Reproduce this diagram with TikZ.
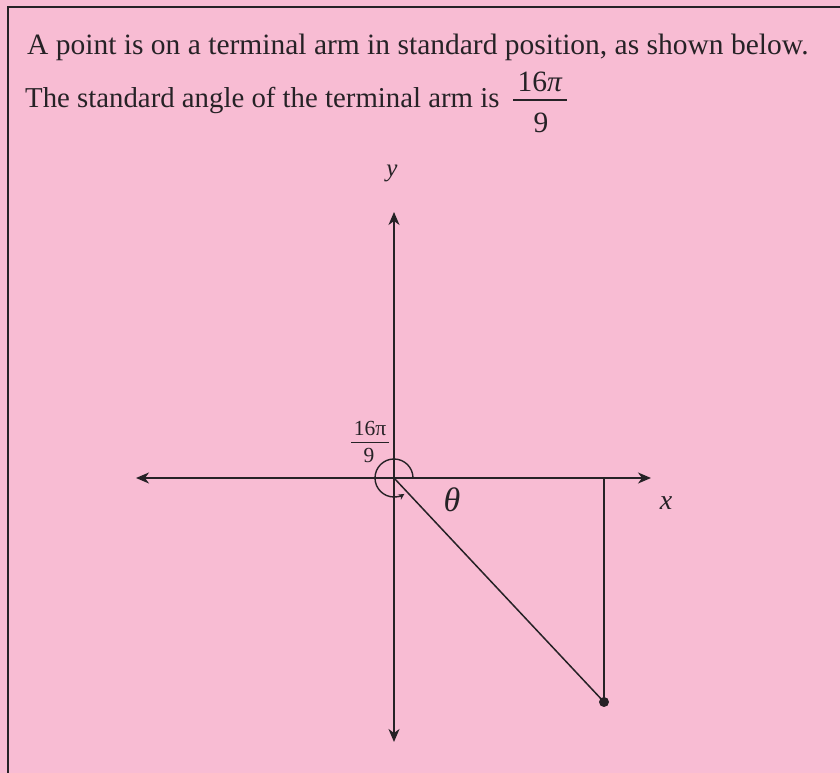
\documentclass[tikz,border=0pt]{standalone}
\usepackage{fontspec}
\setmainfont{Liberation Serif}
\usetikzlibrary{arrows.meta}
\definecolor{pinkbg}{RGB}{248,188,211}
\definecolor{ink}{RGB}{38,34,38}
\begin{document}
\begin{tikzpicture}[x=1pt,y=1pt,
  axis/.style={draw=ink,line width=1.5pt,-{Stealth[length=13pt,width=11pt,inset=4pt]}},
  thin/.style={draw=ink,line width=1.5pt},
  bigtxt/.style={inner sep=0pt,text=ink,font=\fontsize{29.5}{35}\selectfont},
  smalltxt/.style={inner sep=0pt,text=ink,font=\fontsize{21.5}{24}\selectfont},
  lbl/.style={inner sep=0pt,text=ink,font=\fontsize{28}{32}\selectfont\itshape}]
\fill[pinkbg] (0,0) rectangle (840,773);
\useasboundingbox (0,0) rectangle (840,773);
% frame
\draw[ink,line width=1.5pt] (8,0) -- (8,766) -- (840,766);
% text
\node[bigtxt,anchor=base west] (t1) at (27,718) {A point is on a terminal arm in standard position, as shown below.};
\node[bigtxt,font=\fontsize{28.8}{35}\selectfont,anchor=base west] (t2) at (25,665) {The standard angle of the terminal arm is};
\node[bigtxt,anchor=base] (fn) at (540,681) {16\textit{π}};
\node[bigtxt,anchor=base] (fd) at (541,640) {9};
\draw[ink,line width=1.2pt] (513,673) -- (567,673);
% axes
\coordinate (O) at (394,295);
\coordinate (xl) at (136,295);
\coordinate (xr) at (651,295);
\coordinate (yt) at (394,561);
\coordinate (yb) at (394,31);
\draw[axis] (O) -- (xr);
\draw[axis] (O) -- (xl);
\draw[axis] (O) -- (yt);
\draw[axis] (O) -- (yb);
% terminal arm
\node[circle,fill=ink,inner sep=0pt,minimum size=10pt] (P) at (604,71) {};
\coordinate (F) at (604,295);
\draw[thin] (O) -- (P.center);
\draw[thin] (F) -- (P.center);
% angle arc
\draw[ink,line width=1.4pt,-{Stealth[length=6pt,width=6pt]}] (O) ++(19,0) arc[start angle=0,end angle=303,radius=19pt];
% labels
\node[smalltxt,anchor=base] (sn) at (370,337) {16π};
\draw[ink,line width=1pt] (351,330) -- (389,330);
\node[smalltxt,anchor=base] (sd) at (369,310) {9};
\node[lbl,font=\fontsize{34}{38}\selectfont\itshape] (th) at (452,273) {θ};
\node[lbl] (xlab) at (666,270) {x};
\node[lbl,font=\fontsize{25}{30}\selectfont\itshape] (ylab) at (392,600) {y};
\end{tikzpicture}
\end{document}
